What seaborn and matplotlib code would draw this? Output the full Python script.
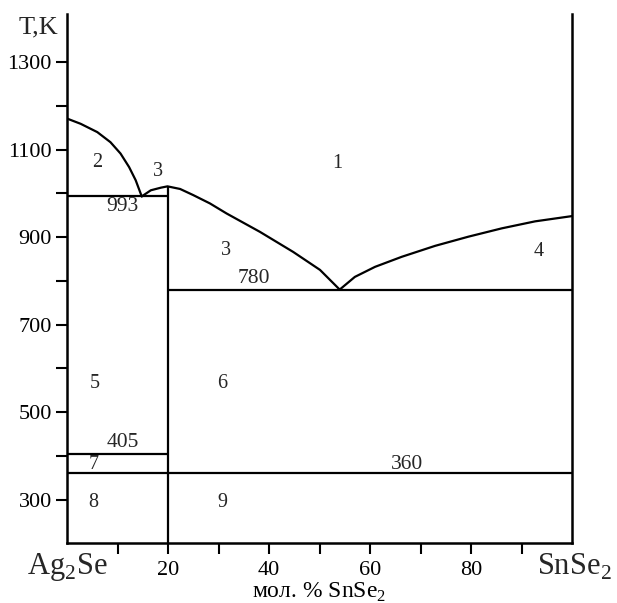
import numpy as np
import pandas as pd
import seaborn as sns
import matplotlib.pyplot as plt

# liquidus branches (mol. % SnSe2, T in K)
liq_ag2se_x = [0, 2.7, 6.0, 8.6, 10.6, 12.3, 13.6, 14.8]
liq_ag2se_t = [1171, 1159, 1140, 1117, 1091, 1060, 1030, 993]
liq_cmp_x = [14.8, 16.6, 18.6, 19.9, 22.4, 25, 28.3, 31.6, 38.2, 44.8, 50.1, 54]
liq_cmp_t = [993, 1007, 1013, 1016, 1010, 996, 977, 954, 912, 866, 825, 780]
liq_snse2_x = [54, 57, 61, 66.3, 72.9, 79.5, 86.1, 92.7, 100]
liq_snse2_t = [780, 809, 832, 855, 880, 901, 920, 936, 948]

# horizontal invariant lines: temperature, from x, to x
inv_t = [993, 780, 405, 360]
inv_x0 = [0, 20, 0, 0]
inv_x1 = [20, 100, 20, 100]
compound_x = 20
compound_t = 1016

# field numbers and labels
field_txt = ['1', '2', '3', '3', '4', '5', '6', '7', '8', '9']
field_x = [53.5, 5.9, 18, 31.5, 93.5, 5.5, 30.7, 5.3, 5.1, 30.7]
field_t = [1068, 1070, 1050, 870, 868, 566, 566, 379, 293, 293]
inv_lbl = ['993', '780', '405', '360']
inv_lbl_x = [11, 37, 11, 67.3]
inv_lbl_t = [969, 806, 431, 379]

yticks = list(range(300, 1301, 100))
ylabels = [str(t) if t % 200 == 100 else '' for t in yticks]
xticks = list(range(10, 100, 10))
xlabels = [str(v) if v % 20 == 0 else '' for v in xticks]

sns.set_theme(style='ticks')
plt.rcParams['font.family'] = ['Liberation Serif', 'DejaVu Serif']
plt.rcParams['mathtext.fontset'] = 'custom'
plt.rcParams['mathtext.rm'] = 'Liberation Serif'

fig = plt.figure(figsize=(6.17, 6.03), dpi=100)
ax = fig.add_axes([67 / 617, 1 - 543.3 / 603, (572 - 67) / 617, (543.3 - 14) / 603])

lw = 1.6
for xs, ts in [(liq_ag2se_x, liq_ag2se_t), (liq_cmp_x, liq_cmp_t), (liq_snse2_x, liq_snse2_t)]:
    df = pd.DataFrame({'x': xs, 't': ts})
    sns.lineplot(data=df, x='x', y='t', sort=False, color='black', linewidth=lw, ax=ax)

ax.hlines(inv_t, inv_x0, inv_x1, color='black', linewidth=lw)
ax.vlines(compound_x, 200, compound_t, color='black', linewidth=lw)

for s, x, t in zip(field_txt, field_x, field_t):
    ax.text(x, t, s, ha='center', va='center', fontsize=14.5)
for s, x, t in zip(inv_lbl, inv_lbl_x, inv_lbl_t):
    ax.text(x, t, s, ha='center', va='center', fontsize=15.5)

ax.set_xlim(0, 100)
ax.set_ylim(200, 1410)
ax.set_yticks(yticks)
ax.set_yticklabels(ylabels)
ax.set_xticks(xticks)
ax.set_xticklabels(xlabels)
ax.tick_params(axis='both', direction='out', length=8, width=1.5, labelsize=16, pad=3, colors='black')
ax.tick_params(axis='x', pad=5)
ax.set_xlabel('мол. % SnSe$_2$', fontsize=17, labelpad=0, color='black')
ax.set_ylabel('')

for side in ['left', 'bottom', 'right']:
    ax.spines[side].set_linewidth(1.8)
    ax.spines[side].set_color('black')
ax.spines['top'].set_visible(False)

ax.text(0, -0.045, 'Ag$_2$Se', transform=ax.transAxes, ha='center', va='center', fontsize=22)
ax.text(1.005, -0.045, 'SnSe$_2$', transform=ax.transAxes, ha='center', va='center', fontsize=22)
fig.text(38 / 617, 1 - 27 / 603, 'T,K', ha='center', va='center', fontsize=19)

fig.savefig('out.png', dpi=100, facecolor='white')
